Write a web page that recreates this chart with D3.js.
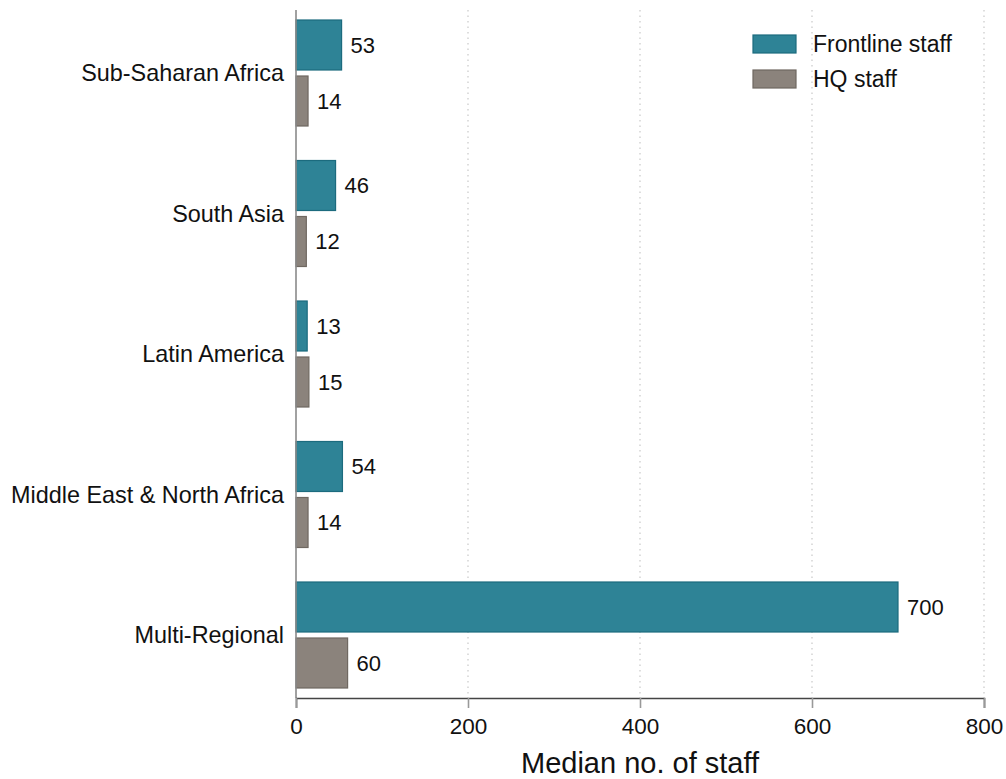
<!DOCTYPE html>
<html><head><meta charset="utf-8">
<script src="https://cdn.jsdelivr.net/npm/d3@7"></script>
<style>body{margin:0;background:#fff}svg{display:block;font-family:"Liberation Sans",Arial,Helvetica,sans-serif}</style>
</head><body><svg id="c" width="1006" height="779"></svg>
<script>
const categories = ["Sub-Saharan Africa","South Asia","Latin America","Middle East & North Africa","Multi-Regional"];
const series = ["Frontline staff","HQ staff"];
const frontline = [53,46,13,54,700];
const hq = [14,12,15,14,60];
const xTicks = [0,200,400,600,800];
const colors = {fill:["#2e8396","#8b837c"], stroke:["#1c6b7e","#6f6861"]};

const svg = d3.select("#c");
const x = d3.scaleLinear().domain([0,800]).range([296,984]);
const y = d3.scaleBand().domain(categories).range([2.75,705.25]).paddingInner(0).paddingOuter(0);
const sub = d3.scaleBand().domain(series).range([17.25,123.25]).paddingInner(6/56).paddingOuter(0);
const plotTop = 10, plotBottom = 698;

// gridlines
svg.append("g").selectAll("line").data(xTicks.slice(1)).join("line")
  .attr("x1",d=>x(d)).attr("x2",d=>x(d)).attr("y1",plotTop).attr("y2",plotBottom)
  .attr("stroke","#c8c8c8").attr("stroke-width",1.2).attr("stroke-dasharray","1.5,4");

const data = [];
categories.forEach((c,i)=>{
  data.push({c, s:series[0], v:frontline[i], k:0});
  data.push({c, s:series[1], v:hq[i], k:1});
});

svg.append("g").selectAll("rect").data(data).join("rect")
  .attr("x",x(0)).attr("y",d=>y(d.c)+sub(d.s))
  .attr("width",d=>x(d.v)-x(0)).attr("height",sub.bandwidth())
  .attr("fill",d=>colors.fill[d.k]).attr("stroke",d=>colors.stroke[d.k]).attr("stroke-width",1.2);

svg.append("g").selectAll("text").data(data).join("text")
  .attr("x",d=>x(d.v)+9).attr("y",d=>y(d.c)+sub(d.s)+sub.bandwidth()/2)
  .attr("dy","0.36em").attr("font-size",22).attr("fill","#111").text(d=>d.v);

// y axis
svg.append("line").attr("x1",296).attr("x2",296).attr("y1",plotTop).attr("y2",plotBottom)
  .attr("stroke","#8a8a8a").attr("stroke-width",1.6);
svg.append("g").selectAll("text").data(categories).join("text")
  .attr("x",284).attr("y",d=>y(d)+y.bandwidth()/2).attr("dy","0.36em")
  .attr("text-anchor","end").attr("font-size",23.4).attr("fill","#111").text(d=>d);

// x axis
const xa = svg.append("g").attr("transform",`translate(0,${plotBottom})`)
  .call(d3.axisBottom(x).tickValues(xTicks).tickSize(10).tickPadding(10).tickFormat(d3.format("d")));
xa.select(".domain").attr("stroke","#444").attr("stroke-width",1.6);
xa.selectAll(".tick line").attr("stroke","#999").attr("stroke-width",1.6);
xa.selectAll(".tick text").attr("font-size",22.5).attr("fill","#111").attr("font-family","'Liberation Sans',Arial,sans-serif");

svg.append("text").attr("x",640).attr("y",773).attr("text-anchor","middle")
  .attr("font-size",29).attr("fill","#111").text("Median no. of staff");

// legend
const lg = svg.append("g");
series.forEach((s,i)=>{
  lg.append("rect").attr("x",753).attr("y",35+i*35).attr("width",43).attr("height",18)
    .attr("fill",colors.fill[i]).attr("stroke",colors.stroke[i]).attr("stroke-width",1.2);
  lg.append("text").attr("x",813).attr("y",44+i*35).attr("dy","0.36em")
    .attr("font-size",23).attr("fill","#111").text(s);
});
</script></body></html>
